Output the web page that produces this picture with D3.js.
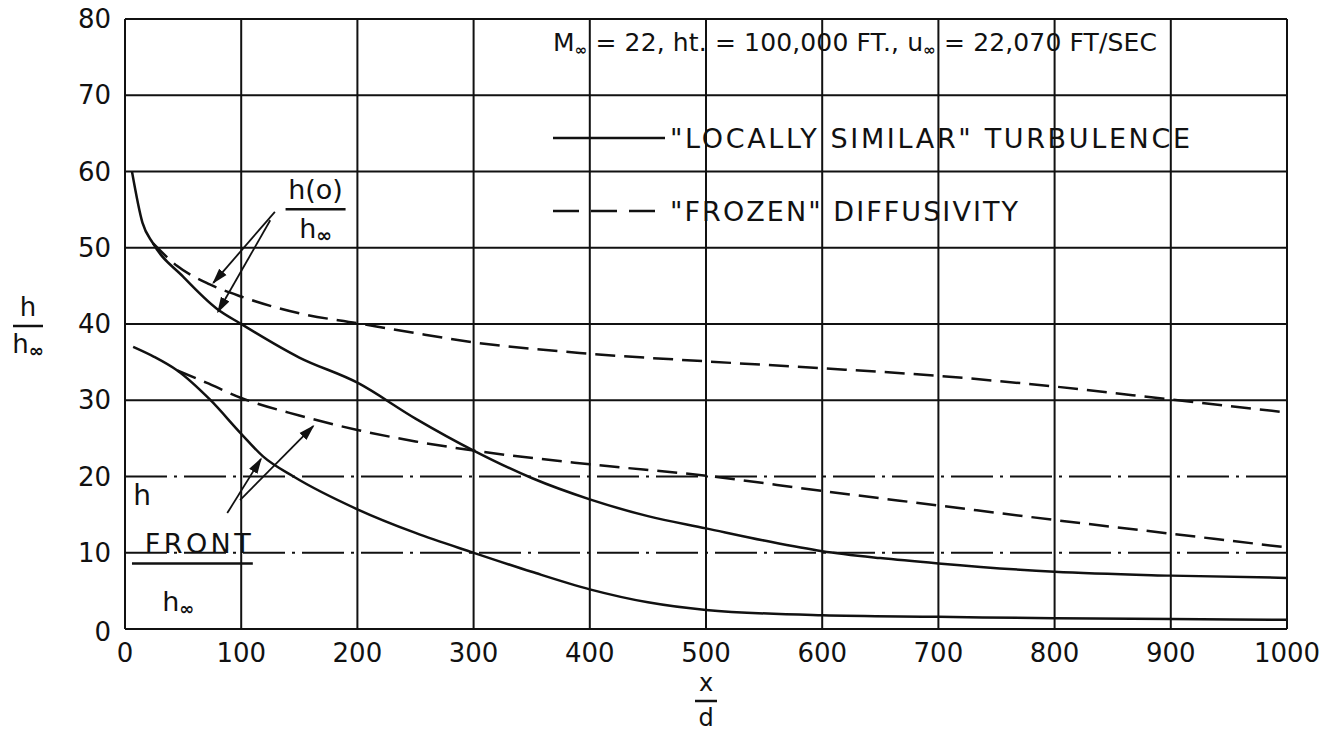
<!DOCTYPE html>
<html>
<head>
<meta charset="utf-8">
<script src="https://cdn.jsdelivr.net/npm/d3@7/dist/d3.min.js"></script>
<style>
	body { margin: 0; background: #fff; }
	svg { display: block; font-family: "DejaVu Sans", sans-serif; }
	text { fill: #111; }
</style>
</head>
<body>
<svg id="chart" width="1325" height="739"></svg>
<script>

// x/d values and h/h_inf readings, taken off the plot
var xTicks = [ 0, 100, 200, 300, 400, 500, 600, 700, 800, 900, 1000 ];
var yTicks = [ 0, 10, 20, 30, 40, 50, 60, 70, 80 ];

// h(0)/h_inf, "locally similar" turbulence (solid)
var stagLocal = [
	[ 6, 60 ], [ 15, 53.3 ], [ 24, 50.6 ], [ 50, 46.2 ], [ 79, 42 ], [ 100, 40 ],
	[ 150, 35.6 ], [ 200, 32.3 ], [ 250, 27.6 ], [ 300, 23.4 ],
	[ 350, 19.8 ], [ 400, 17 ], [ 450, 14.8 ], [ 500, 13.2 ], [ 550, 11.6 ],
	[ 600, 10.2 ], [ 650, 9.3 ], [ 700, 8.6 ], [ 800, 7.5 ], [ 900, 7.0 ], [ 1000, 6.7 ]
];

// h(0)/h_inf, "frozen" diffusivity (dashed)
var stagFrozen = [
	[ 24, 50.6 ], [ 45, 47.6 ], [ 73, 45.2 ], [ 100, 43.6 ], [ 150, 41.4 ], [ 200, 40.1 ],
	[ 250, 38.8 ], [ 300, 37.6 ], [ 400, 36.1 ], [ 500, 35.1 ], [ 600, 34.2 ],
	[ 700, 33.2 ], [ 800, 31.8 ], [ 900, 30.1 ], [ 1000, 28.4 ]
];

// h_front/h_inf, "locally similar" turbulence (solid)
var frontLocal = [
	[ 7, 37 ], [ 25, 35.7 ], [ 45, 33.9 ], [ 73, 30.1 ], [ 100, 25.6 ], [ 119, 22.6 ],
	[ 145, 20 ], [ 200, 15.7 ], [ 250, 12.6 ], [ 300, 10 ], [ 350, 7.5 ],
	[ 400, 5.2 ], [ 450, 3.5 ], [ 500, 2.5 ], [ 600, 1.8 ], [ 700, 1.6 ], [ 800, 1.4 ],
	[ 900, 1.3 ], [ 1000, 1.2 ]
];

// h_front/h_inf, "frozen" diffusivity (dashed)
var frontFrozen = [
	[ 45, 33.9 ], [ 70, 32.3 ], [ 100, 30.3 ], [ 150, 28 ], [ 200, 26.1 ],
	[ 250, 24.6 ], [ 300, 23.4 ], [ 400, 21.6 ], [ 500, 20.1 ],
	[ 600, 18.1 ], [ 700, 16.2 ], [ 800, 14.3 ], [ 900, 12.5 ], [ 1000, 10.7 ]
];

// leader lines for the two curve labels, in data units
var stagLeaders = [
	[ [ 129, 54.7 ], [ 76, 45.4 ] ],
	[ [ 125, 53.6 ], [ 80, 41.6 ] ]
];
var frontLeaders = [
	[ [ 88, 15.2 ], [ 117, 22.3 ] ],
	[ [ 99, 16.9 ], [ 162, 26.6 ] ]
];

var svg = d3.select( '#chart' );

var margin = { top: 19, right: 38, bottom: 110, left: 125 };
var width = 1325 - margin.left - margin.right;
var height = 739 - margin.top - margin.bottom;

var x = d3.scaleLinear().domain( [ 0, 1000 ] ).range( [ margin.left, margin.left + width ] );
var y = d3.scaleLinear().domain( [ 0, 80 ] ).range( [ margin.top + height, margin.top ] );

var ink = '#111';

// grid
var grid = svg.append( 'g' ).attr( 'class', 'grid' );
grid.selectAll( '.vline' )
	.data( xTicks )
	.enter()
	.append( 'line' )
	.attr( 'x1', function ( d ) { return x( d ); } )
	.attr( 'x2', function ( d ) { return x( d ); } )
	.attr( 'y1', y( 0 ) )
	.attr( 'y2', y( 80 ) )
	.style( 'stroke', ink )
	.style( 'stroke-width', 2 );
grid.selectAll( '.hline' )
	.data( yTicks )
	.enter()
	.append( 'line' )
	.attr( 'x1', x( 0 ) )
	.attr( 'x2', x( 1000 ) )
	.attr( 'y1', function ( d ) { return y( d ); } )
	.attr( 'y2', function ( d ) { return y( d ); } )
	.style( 'stroke', ink )
	.style( 'stroke-width', 2 )
	// the 10 and 20 lines are printed dash-dot
	.style( 'stroke-dasharray', function ( d ) {
		return ( d === 10 || d === 20 ) ? '42,7,3,7' : null;
	} );

// tick labels
svg.append( 'g' ).selectAll( 'text' )
	.data( xTicks )
	.enter()
	.append( 'text' )
	.attr( 'x', function ( d ) { return x( d ); } )
	.attr( 'y', y( 0 ) + 33 )
	.attr( 'text-anchor', 'middle' )
	.style( 'font-size', '26px' )
	.text( function ( d ) { return d; } );

svg.append( 'g' ).selectAll( 'text' )
	.data( yTicks )
	.enter()
	.append( 'text' )
	.attr( 'x', x( 0 ) - 14 )
	.attr( 'y', function ( d ) { return y( d ) + ( d === 0 ? 12 : 9 ); } )
	.attr( 'text-anchor', 'end' )
	.style( 'font-size', '26px' )
	.text( function ( d ) { return d; } );

// curves
var lineGenerator = d3.line()
	.x( function ( d ) { return x( d[0] ); } )
	.y( function ( d ) { return y( d[1] ); } )
	.curve( d3.curveMonotoneX );

[
	{ data: stagLocal, dash: null },
	{ data: stagFrozen, dash: '20,9' },
	{ data: frontLocal, dash: null },
	{ data: frontFrozen, dash: '20,9' }
].forEach( function ( s ) {
	svg.append( 'path' )
		.attr( 'd', lineGenerator( s.data ) )
		.style( 'fill', 'none' )
		.style( 'stroke', ink )
		.style( 'stroke-width', 2.5 )
		.style( 'stroke-dasharray', s.dash );
} );

// leader lines with small arrow heads
svg.append( 'defs' ).append( 'marker' )
	.attr( 'id', 'arrow' )
	.attr( 'viewBox', '0 0 10 10' )
	.attr( 'refX', 9 )
	.attr( 'refY', 5 )
	.attr( 'markerWidth', 9 )
	.attr( 'markerHeight', 9 )
	.attr( 'orient', 'auto' )
	.append( 'path' )
	.attr( 'd', 'M0,2 L10,5 L0,8 Z' )
	.style( 'fill', ink );

stagLeaders.concat( frontLeaders ).forEach( function ( l ) {
	svg.append( 'line' )
		.attr( 'x1', x( l[0][0] ) )
		.attr( 'y1', y( l[0][1] ) )
		.attr( 'x2', x( l[1][0] ) )
		.attr( 'y2', y( l[1][1] ) )
		.attr( 'marker-end', 'url(#arrow)' )
		.style( 'stroke', ink )
		.style( 'stroke-width', 1.8 );
} );

// fraction labels (numerator, bar, denominator)
function fraction( cx, top, num, den, barW, size ) {
	var g = svg.append( 'g' );
	g.append( 'text' )
		.attr( 'x', cx )
		.attr( 'y', top )
		.attr( 'text-anchor', 'middle' )
		.style( 'font-size', size + 'px' )
		.text( num );
	g.append( 'line' )
		.attr( 'x1', cx - barW / 2 )
		.attr( 'x2', cx + barW / 2 )
		.attr( 'y1', top + 10 )
		.attr( 'y2', top + 10 )
		.style( 'stroke', ink )
		.style( 'stroke-width', 2.5 );
	var t = g.append( 'text' )
		.attr( 'x', cx )
		.attr( 'y', top + 10 + size * 1.05 )
		.attr( 'text-anchor', 'middle' )
		.style( 'font-size', size + 'px' );
	t.append( 'tspan' ).text( den[0] );
	if ( den[1] ) {
		t.append( 'tspan' )
			.attr( 'dy', 4 )
			.style( 'font-size', ( size * 0.7 ) + 'px' )
			.style( 'font-weight', 'bold' )
			.text( den[1] );
	}
	return g;
}

fraction( x( 164 ), y( 57.4 ) + 8, 'h(o)', [ 'h', '∞' ], 60, 27 );
fraction( 28, 316, 'h', [ 'h', '∞' ], 30, 26 );
fraction( x( 500 ), y( 0 ) + 62, 'x', [ 'd', '' ], 22, 24 );

// h front label
var hf = svg.append( 'g' );
hf.append( 'text' )
	.attr( 'x', x( 7 ) )
	.attr( 'y', y( 16 ) - 2 )
	.style( 'font-size', '28px' )
	.text( 'h' );
hf.append( 'text' )
	.attr( 'x', x( 17 ) )
	.attr( 'y', y( 11.4 ) + 11 )
	.attr( 'textLength', 106 )
	.attr( 'lengthAdjust', 'spacing' )
	.style( 'font-size', '27px' )
	.text( 'FRONT' );
hf.append( 'line' )
	.attr( 'x1', x( 6 ) )
	.attr( 'x2', x( 110 ) )
	.attr( 'y1', y( 8.6 ) )
	.attr( 'y2', y( 8.6 ) )
	.style( 'stroke', ink )
	.style( 'stroke-width', 2.5 );
var hfDen = hf.append( 'text' )
	.attr( 'x', x( 32 ) )
	.attr( 'y', y( 3.6 ) + 9 )
	.style( 'font-size', '27px' );
hfDen.append( 'tspan' ).text( 'h' );
hfDen.append( 'tspan' ).attr( 'dy', 4 ).style( 'font-size', '18px' ).style( 'font-weight', 'bold' ).text( '∞' );

// legend
var legend = svg.append( 'g' );
var title = legend.append( 'text' )
	.attr( 'x', 553 )
	.attr( 'y', 51 )
	.attr( 'textLength', 604 )
	.attr( 'lengthAdjust', 'spacing' )
	.style( 'font-size', '25px' );
title.append( 'tspan' ).text( 'M' );
title.append( 'tspan' ).attr( 'dy', 4 ).style( 'font-size', '15px' ).style( 'font-weight', 'bold' ).text( '∞' );
title.append( 'tspan' ).attr( 'dy', -4 ).text( ' = 22,  ht. = 100,000 FT.,  u' );
title.append( 'tspan' ).attr( 'dy', 4 ).style( 'font-size', '15px' ).style( 'font-weight', 'bold' ).text( '∞' );
title.append( 'tspan' ).attr( 'dy', -4 ).text( ' = 22,070 FT/SEC' );

legend.append( 'line' )
	.attr( 'x1', 553 ).attr( 'x2', 665 )
	.attr( 'y1', 138 ).attr( 'y2', 138 )
	.style( 'stroke', ink ).style( 'stroke-width', 2.5 );
legend.append( 'text' )
	.attr( 'x', 670 )
	.attr( 'y', 148 )
	.attr( 'textLength', 520 )
	.attr( 'lengthAdjust', 'spacing' )
	.style( 'font-size', '27px' )
	.text( '"LOCALLY SIMILAR" TURBULENCE' );

legend.append( 'line' )
	.attr( 'x1', 553 ).attr( 'x2', 665 )
	.attr( 'y1', 211 ).attr( 'y2', 211 )
	.style( 'stroke', ink ).style( 'stroke-width', 2.5 )
	.style( 'stroke-dasharray', '26,12' );
legend.append( 'text' )
	.attr( 'x', 670 )
	.attr( 'y', 221 )
	.attr( 'textLength', 348 )
	.attr( 'lengthAdjust', 'spacing' )
	.style( 'font-size', '27px' )
	.text( '"FROZEN" DIFFUSIVITY' );

</script>
</body>
</html>
